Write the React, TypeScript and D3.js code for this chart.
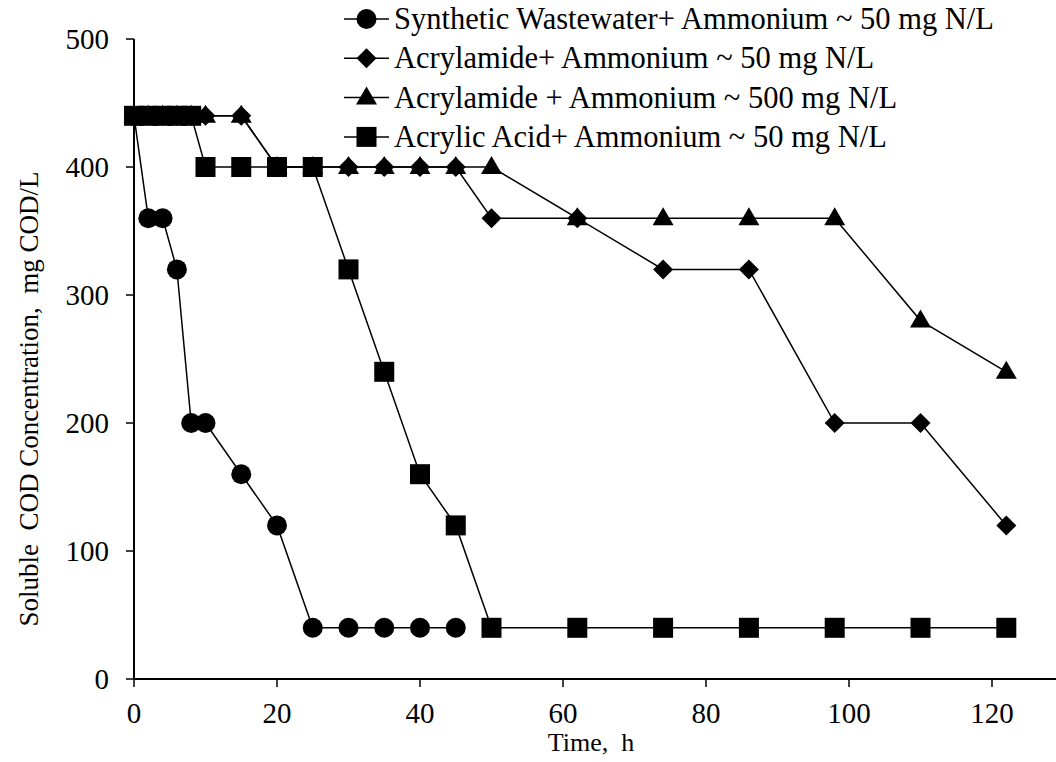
import React from "react";
import * as d3 from "d3";

const timeSW = [0, 2, 4, 6, 8, 10, 15, 20, 25, 30, 35, 40, 45];
const codSW = [440, 360, 360, 320, 200, 200, 160, 120, 40, 40, 40, 40, 40];

const timeAM50 = [0, 2, 4, 6, 8, 10, 15, 20, 25, 30, 35, 40, 45, 50, 62, 74, 86, 98, 110, 122];
const codAM50 = [440, 440, 440, 440, 440, 440, 440, 400, 400, 400, 400, 400, 400, 360, 360, 320, 320, 200, 200, 120];

const timeAM500 = [0, 2, 4, 6, 8, 10, 15, 20, 25, 30, 35, 40, 45, 50, 62, 74, 86, 98, 110, 122];
const codAM500 = [440, 440, 440, 440, 440, 440, 440, 400, 400, 400, 400, 400, 400, 400, 360, 360, 360, 360, 280, 240];

const timeAA = [0, 2, 4, 6, 8, 10, 15, 20, 25, 30, 35, 40, 45, 50, 62, 74, 86, 98, 110, 122];
const codAA = [440, 440, 440, 440, 440, 400, 400, 400, 400, 320, 240, 160, 120, 40, 40, 40, 40, 40, 40, 40];

const seriesNames = [
  "Synthetic Wastewater+ Ammonium ~ 50 mg N/L",
  "Acrylamide+ Ammonium ~ 50 mg N/L",
  "Acrylamide + Ammonium ~ 500 mg N/L",
  "Acrylic Acid+ Ammonium ~ 50 mg N/L",
];
const markerKinds = ["circle", "diamond", "triangle", "square"];

const xTicks = [0, 20, 40, 60, 80, 100, 120];
const yTicks = [0, 100, 200, 300, 400, 500];

const FONT = "Liberation Serif";

function Marker({ kind, x, y }: { kind: string; x: number; y: number }) {
  if (kind === "circle") return <circle cx={x} cy={y} r={10} fill="#000" />;
  if (kind === "square") return <rect x={x - 10} y={y - 10} width={20} height={20} fill="#000" />;
  if (kind === "diamond")
    return <path d={`M${x},${y - 10}L${x + 10},${y}L${x},${y + 10}L${x - 10},${y}Z`} fill="#000" />;
  return <path d={`M${x},${y - 11}L${x + 10.5},${y + 7}L${x - 10.5},${y + 7}Z`} fill="#000" />;
}

export default function App() {
  const W = 1056;
  const H = 762;
  const x = d3.scaleLinear().domain([0, 120]).range([134, 992]);
  const y = d3.scaleLinear().domain([0, 500]).range([679, 39]);

  const series = [
    { t: timeSW, v: codSW },
    { t: timeAM50, v: codAM50 },
    { t: timeAM500, v: codAM500 },
    { t: timeAA, v: codAA },
  ];

  const line = d3
    .line<[number, number]>()
    .x((d) => x(d[0]))
    .y((d) => y(d[1]));

  const ts = { fontFamily: FONT, whiteSpace: "pre" as const };

  return (
    <svg
      width={W}
      height={H}
      style={{ position: "absolute", left: 0, top: 0, background: "#fff" }}
    >
      <rect x={0} y={0} width={W} height={H} fill="#fff" />
      {/* axes */}
      <line x1={x(0)} x2={W} y1={y(0)} y2={y(0)} stroke="#000" strokeWidth={2} />
      <line x1={x(0)} x2={x(0)} y1={y(0)} y2={y(500)} stroke="#000" strokeWidth={2} />
      {xTicks.map((t) => (
        <g key={"xt" + t}>
          <line x1={x(t)} x2={x(t)} y1={y(0)} y2={y(0) + 8} stroke="#000" strokeWidth={1.5} />
          <text x={x(t)} y={723} textAnchor="middle" fontSize={29} style={ts}>
            {t}
          </text>
        </g>
      ))}
      {yTicks.map((t) => (
        <g key={"yt" + t}>
          <line x1={x(0) - 8} x2={x(0)} y1={y(t)} y2={y(t)} stroke="#000" strokeWidth={1.5} />
          <text x={109} y={y(t) + 10} textAnchor="end" fontSize={29} style={ts}>
            {t}
          </text>
        </g>
      ))}
      <text x={591} y={751} textAnchor="middle" fontSize={26} style={ts}>
        {"Time,  h"}
      </text>
      <text
        transform={`translate(38,399) rotate(-90)`}
        textAnchor="middle"
        fontSize={27}
        style={ts}
      >
        {"Soluble  COD Concentration,  mg COD/L"}
      </text>
      {/* series */}
      {series.map((s, i) => (
        <g key={"s" + i}>
          <path
            d={line(s.t.map((t, j) => [t, s.v[j]] as [number, number])) || ""}
            fill="none"
            stroke="#000"
            strokeWidth={1.5}
          />
          {s.t.map((t, j) => (
            <Marker key={j} kind={markerKinds[i]} x={x(t)} y={y(s.v[j])} />
          ))}
        </g>
      ))}
      {/* legend */}
      {seriesNames.map((name, i) => {
        const ly = 19 + i * 39.3;
        return (
          <g key={"l" + i}>
            <line x1={344} x2={389} y1={ly} y2={ly} stroke="#000" strokeWidth={1.5} />
            <Marker kind={markerKinds[i]} x={366.5} y={ly} />
            <text x={394} y={ly + 10} fontSize={30.5} style={ts}>
              {name}
            </text>
          </g>
        );
      })}
    </svg>
  );
}
